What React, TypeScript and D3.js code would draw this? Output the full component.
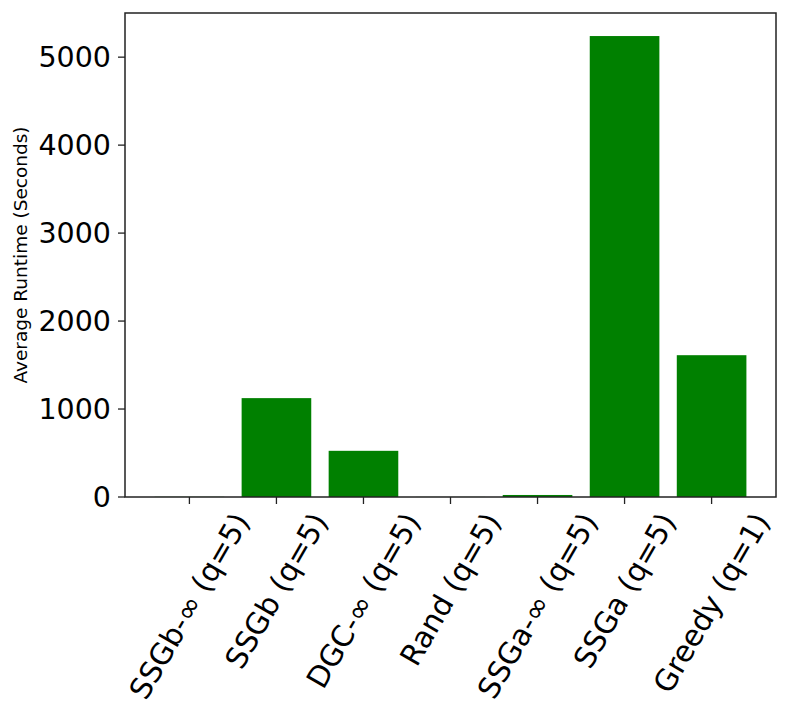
import React, { useRef, useEffect } from 'react'
import * as d3 from 'd3'

const categories = [
  'SSGb-∞ (q=5)',
  'SSGb (q=5)',
  'DGC-∞ (q=5)',
  'Rand (q=5)',
  'SSGa-∞ (q=5)',
  'SSGa (q=5)',
  'Greedy (q=1)',
]
const runtimes = [2, 1124, 525, 1, 23, 5240, 1612]
const yTicks = [0, 1000, 2000, 3000, 4000, 5000]

const W = 789
const H = 719
const left = 125
const right = 776
const top = 13
const bottom = 497
const font = 'DejaVu Sans'

const App: React.FC = () => {
  const svgRef = useRef<SVGSVGElement>(null)

  useEffect(() => {
    const svg = d3.select(svgRef.current)
    svg.selectAll('*').remove()

    const n = categories.length
    // matplotlib-like margins: bars span [-0.4, n-0.6], padded 5%
    const span = n - 1 + 0.8
    const pad = span * 0.05
    const x = d3.scaleLinear().domain([-0.4 - pad, n - 0.6 + pad]).range([left, right])
    const y = d3
      .scaleLinear()
      .domain([0, d3.max(runtimes)! * 1.05])
      .range([bottom, top])

    svg
      .append('g')
      .selectAll('rect')
      .data(runtimes)
      .join('rect')
      .attr('x', (d, i) => x(i - 0.4))
      .attr('width', x(0.4) - x(-0.4))
      .attr('y', d => y(d))
      .attr('height', d => y(0) - y(d))
      .attr('fill', '#008000')

    // y ticks
    const yg = svg.append('g')
    yTicks.forEach(t => {
      yg.append('line')
        .attr('x1', left - 7)
        .attr('x2', left)
        .attr('y1', y(t))
        .attr('y2', y(t))
        .attr('stroke', '#222')
        .attr('stroke-width', 1.3)
      yg.append('text')
        .attr('x', left - 14)
        .attr('y', y(t))
        .attr('dy', '0.36em')
        .attr('text-anchor', 'end')
        .attr('font-family', font)
        .attr('font-size', 28.5)
        .text(t)
    })

    // x ticks + rotated labels (centered like matplotlib rotation=60)
    const fs = 29.5
    const xg = svg.append('g')
    categories.forEach((c, i) => {
      const cx = x(i)
      xg.append('line')
        .attr('x1', cx)
        .attr('x2', cx)
        .attr('y1', bottom)
        .attr('y2', bottom + 7)
        .attr('stroke', '#222')
        .attr('stroke-width', 1.3)
      const t = xg
        .append('text')
        .attr('text-anchor', 'middle')
        .attr('font-family', font)
        .attr('font-size', fs)
        .text(c)
      const L = (t.node() as SVGTextElement).getComputedTextLength()
      const h = 1.164 * fs
      const a = (60 * Math.PI) / 180
      const bh = L * Math.sin(a) + h * Math.cos(a)
      const cy = bottom + 7 + 3 + bh / 2
      t.attr('transform', `translate(${cx},${cy}) rotate(-60)`).attr('y', 0.346 * fs)
    })

    // y label
    svg
      .append('text')
      .attr('transform', `translate(27,${(top + bottom) / 2}) rotate(-90)`)
      .attr('text-anchor', 'middle')
      .attr('font-family', font)
      .attr('font-size', 18.5)
      .text('Average Runtime (Seconds)')

    // frame
    svg
      .append('rect')
      .attr('x', left)
      .attr('y', top)
      .attr('width', right - left)
      .attr('height', bottom - top)
      .attr('fill', 'none')
      .attr('stroke', '#222')
      .attr('stroke-width', 1.5)
  }, [])

  return (
    <svg
      ref={svgRef}
      width={W}
      height={H}
      style={{ display: 'block', position: 'absolute', left: 0, top: 0, background: '#fff' }}
    />
  )
}

export default App
